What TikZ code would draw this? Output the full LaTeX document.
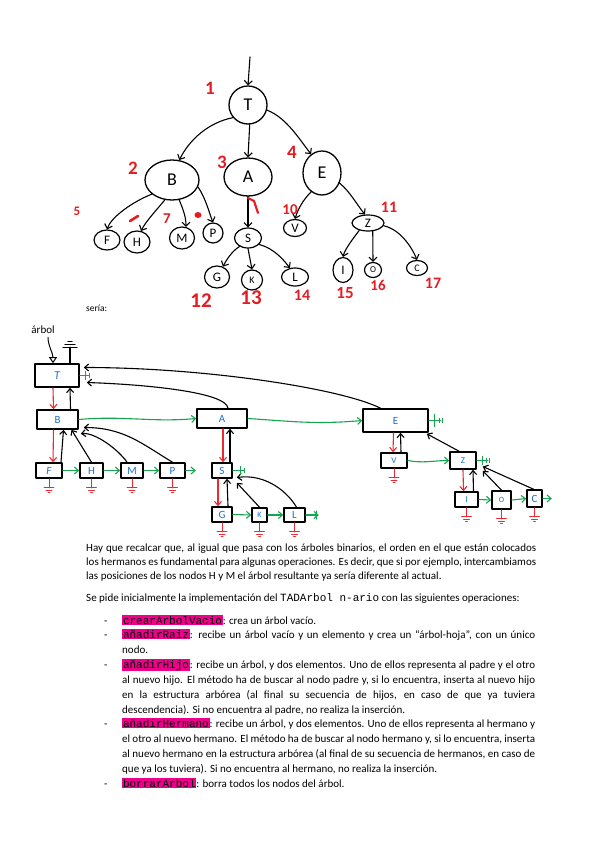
\documentclass[tikz,border=0pt]{standalone}
\usepackage{fontspec}
\setmainfont{Carlito}
\newfontfamily\codefont{Liberation Mono}
\usetikzlibrary{shapes.geometric,arrows.meta,calc}

\definecolor{numred}{RGB}{228,28,36}
\definecolor{linkred}{RGB}{236,40,48}
\definecolor{linkgreen}{RGB}{22,165,78}
\definecolor{labelblue}{RGB}{28,112,205}
\definecolor{hlpink}{RGB}{236,0,140}

\newcommand{\hl}[1]{{\setlength{\fboxsep}{0.8pt}\colorbox{hlpink}{\codefont\color{black}#1}}}
\newcommand{\jline}[2]{\hbox to #1{\spaceskip=0.23em plus 1em minus 0.12em #2}}

\begin{document}
\begin{tikzpicture}[x=1pt, y=-1pt, line cap=round, line join=round,
  bigc/.style={draw, ellipse, line width=1.3pt, inner sep=0pt, font=\fontsize{18}{18}\selectfont},
  smallc/.style={draw, ellipse, line width=1.2pt, inner sep=0pt, font=\fontsize{13}{13}\selectfont},
  num/.style={text=numred, font=\bfseries\fontsize{19}{19}\selectfont},
  tarrow/.style={line width=1.1pt, -{Straight Barb[length=4pt,width=8pt]}},
  cell/.style={draw, line width=1.6pt, inner sep=0pt, text=labelblue, font=\fontsize{11}{11}\selectfont},
  child/.style={linkred, line width=1.1pt, -{Straight Barb[length=4pt,width=7pt]}},
  parent/.style={line width=1.1pt, -{Straight Barb[length=4pt,width=7pt]}},
  sibling/.style={linkgreen, line width=1.1pt, -{Straight Barb[length=4pt,width=7pt]}},
  nil/.style={linkgreen, line width=1.1pt},
  gnd/.style={linkred, line width=0.9pt},
  body/.style={anchor=base west, inner sep=0pt, font=\fontsize{11}{11}\selectfont}]

  \fill[white] (0,0) rectangle (599,848);

  %% ==== arbol dibujado a mano ====
  \node[bigc, minimum width=38, minimum height=38] (tT) at (248,105) {T};
  \node[bigc, minimum width=54, minimum height=40] (tB) at (172,180) {B};
  \node[bigc, minimum width=48, minimum height=38] (tA) at (248,177) {A};
  \node[bigc, minimum width=38, minimum height=44] (tE) at (322,173) {E};
  \node[smallc, minimum width=26, minimum height=20] (tF) at (107,240) {F};
  \node[smallc, minimum width=26, minimum height=22] (tH) at (137,242) {H};
  \node[smallc, minimum width=25, minimum height=22] (tM) at (182,238) {M};
  \node[smallc, minimum width=20, minimum height=20] (tP) at (213,233) {P};
  \node[smallc, minimum width=27, minimum height=20] (tS) at (248,238) {S};
  \node[smallc, minimum width=23, minimum height=17] (tV) at (295,228) {V};
  \node[smallc, minimum width=32, minimum height=16] (tZ) at (368,223) {Z};
  \node[smallc, minimum width=25, minimum height=22] (tG) at (217,277) {G};
  \node[smallc, minimum width=21, minimum height=20] (tK) at (252,280) {\fontsize{10}{10}\selectfont K};
  \node[smallc, minimum width=27, minimum height=18] (tL) at (295,277) {L};
  \node[smallc, minimum width=20, minimum height=25] (tI) at (343,270) {I};
  \node[smallc, minimum width=17, minimum height=15] (tO) at (373,270) {\fontsize{9}{9}\selectfont O};
  \node[smallc, minimum width=21, minimum height=15] (tC) at (417,268) {\fontsize{10}{10}\selectfont C};

  \coordinate (root) at (250,57);
  \draw[tarrow] (root) -- (tT.north);
  \draw[tarrow] (tT.220) .. controls +(-25,5) and +(10,-20) .. (tB.70);
  \draw[tarrow] (tT.275) -- (tA.north);
  \draw[tarrow] (tT.345) .. controls +(20,8) and +(-12,-15) .. (tE.120);
  \draw[tarrow] (tB.215) .. controls +(-20,8) and +(4,-12) .. (tF.north);
  \draw[tarrow] (tB.250) .. controls +(-8,10) and +(5,-10) .. (tH.70);
  \draw[tarrow] (tB.290) .. controls +(4,10) and +(0,-10) .. (tM.70);
  \draw[tarrow] (tB.345) .. controls +(8,12) and +(-4,-10) .. (tP.north);
  \draw[tarrow] (tA.south) -- (tS.north);
  \draw[tarrow] (tE.240) .. controls +(-8,8) and +(3,-10) .. (tV.north);
  \draw[tarrow] (tE.330) .. controls +(10,8) and +(-8,-10) .. (tZ.110);
  \draw[tarrow] (tS.225) .. controls +(-8,5) and +(3,-6) .. (tG.60);
  \draw[tarrow] (tS.south) -- (tK.north);
  \draw[tarrow] (tS.330) .. controls +(15,4) and +(-6,-8) .. (tL.120);
  \draw[tarrow] (tZ.220) .. controls +(-6,8) and +(2,-8) .. (tI.north);
  \draw[tarrow] (tZ.300) -- (tO.north);
  \draw[tarrow] (tZ.350) .. controls +(18,4) and +(-4,-10) .. (tC.north);

  %% numeros en rojo
  \node[num] (n1) at (210,88) {1};
  \node[num] (n2) at (133,168) {2};
  \node[num] (n3) at (222,162) {3};
  \node[num] (n4) at (292,152) {4};
  \node[num, font=\bfseries\fontsize{13}{13}\selectfont] (n5) at (77,211) {5};
  \draw[numred, line width=2.6pt] (130,221) -- (138,216);
  \node[num, font=\bfseries\fontsize{15}{15}\selectfont] (n7) at (167,219) {7};
  \fill[numred] (198,215) ellipse (3.5 and 3);
  \draw[numred, line width=2.2pt] (248,198) -- (254,201) -- (258,213);
  \node[num, font=\bfseries\fontsize{15}{15}\selectfont] (n10) at (290,210) {10};
  \node[num, font=\bfseries\fontsize{16}{16}\selectfont] (n11) at (389,207) {11};
  \node[num, font=\bfseries\fontsize{21}{21}\selectfont] (n12) at (201,301) {12};
  \node[num, font=\bfseries\fontsize{21}{21}\selectfont] (n13) at (251,298) {13};
  \node[num, font=\bfseries\fontsize{16}{16}\selectfont] (n14) at (302,295) {14};
  \node[num, font=\bfseries\fontsize{17}{17}\selectfont] (n15) at (345,293) {15};
  \node[num, font=\bfseries\fontsize{15}{15}\selectfont] (n16) at (378,285) {16};
  \node[num, font=\bfseries\fontsize{16}{16}\selectfont] (n17) at (433,283) {17};

  \node[anchor=base west, inner sep=0pt, font=\fontsize{9.5}{9.5}\selectfont] (seria) at (86,311) {sería:};

  %% ==== estructura enlazada ====
  \node[font=\fontsize{11}{11}\selectfont] (lArbol) at (43,330) {árbol};
  \node[cell, minimum width=44, minimum height=23, font=\itshape\fontsize{12}{12}\selectfont] (bT) at (57,375.5) {T};
  \node[cell, minimum width=41, minimum height=19] (bB) at (57.5,419.5) {B};
  \node[cell, minimum width=50, minimum height=19] (bA) at (222,418.5) {A};
  \node[cell, minimum width=65, minimum height=23] (bE) at (395.5,420.5) {E};
  \node[cell, minimum width=26, minimum height=15, font=\itshape\fontsize{11}{11}\selectfont] (bF) at (49,470.5) {F};
  \node[cell, minimum width=23, minimum height=15] (bH) at (91.5,470.5) {H};
  \node[cell, minimum width=22, minimum height=15] (bM) at (132,470.5) {M};
  \node[cell, minimum width=25, minimum height=15] (bP) at (172.5,470.5) {P};
  \node[cell, minimum width=20, minimum height=15] (bS) at (222,470.5) {S};
  \node[cell, minimum width=20, minimum height=15] (bG) at (222,514.5) {G};
  \node[cell, minimum width=15, minimum height=14, font=\fontsize{8}{8}\selectfont] (bK) at (259.5,515) {K};
  \node[cell, minimum width=21, minimum height=14] (bL) at (294.5,515) {L};
  \node[cell, minimum width=26, minimum height=15, font=\fontsize{9}{9}\selectfont] (bV) at (394,460.5) {V};
  \node[cell, minimum width=26, minimum height=17, font=\fontsize{9}{9}\selectfont] (bZ) at (463,460.5) {Z};
  \node[cell, minimum width=23, minimum height=15, font=\fontsize{9}{9}\selectfont] (bI) at (466.5,499.5) {I};
  \node[cell, minimum width=19, minimum height=18, font=\fontsize{8}{8}\selectfont] (bO) at (501.5,500) {O};
  \node[cell, minimum width=15, minimum height=17] (bC) at (534.5,498.5) {C};

  % puntero de entrada y tierra del padre de la raiz
  \draw[line width=1pt, -{Triangle[open,length=6pt,width=8pt]}] ($(lArbol.south)+(5,0)$) .. controls +(0,8) and +(0,-10) .. ($(bT.north)+(-4,0)$);
  \draw[line width=1.1pt] ($(bT.north)+(13,0)$) -- ++(0,-16) ++(-7,0) -- ++(14,0) ++(-12,-3) -- ++(10,0) ++(-7,-3) -- ++(4,0);

  % primer hijo (rojo)
  \draw[child] ($(bT.south)+(-4,0)$) -- ($(bB.north)+(-4,0)$);
  \draw[child] ($(bB.south)+(-4,0)$) -- ($(bF.north)+(4,0)$);
  \draw[child] ($(bA.south)+(1,0)$) -- ($(bS.north)+(1,0)$);
  \draw[child] ($(bS.south)+(-4,0)$) -- ($(bG.north)+(-4,0)$);
  \draw[child] ($(bE.south)+(-2,0)$) -- ($(bV.north)+(-1,0)$);
  \draw[child] (bZ.south) -- ($(bI.north)+(-3,0)$);

  % padre (negro)
  \draw[parent] ($(bB.north)+(13,0)$) -- ($(bT.south)+(13,0)$);
  \draw[parent] ($(bF.north)+(12,0)$) -- ($(bB.south)+(6,0)$);
  \draw[parent] (bH.north) -- ($(bB.south)+(14,0)$);
  \draw[parent] ($(bM.north)+(-5,0)$) .. controls +(-8,-12) and +(14,-2) .. ($(bB.south east)+(2,4)$);
  \draw[parent] (bP.north) .. controls +(-30,-18) and +(40,0) .. ($(bB.east)+(5,8)$);
  \draw[parent] ($(bA.north)+(6,0)$) .. controls +(-2,-16) and +(60,2) .. ($(bT.east)+(7,7)$);
  \draw[parent] ($(bE.north)+(-15,0)$) .. controls +(-40,-20) and +(120,0) .. ($(bT.east)+(4,-8)$);
  \draw[parent] ($(bS.north)+(8,0)$) -- ($(bA.south)+(8,0)$);
  \draw[parent] ($(bG.north)+(6,0)$) -- ($(bS.south)+(5,0)$);
  \draw[parent] (bK.north) -- ($(bS.south east)+(4,4)$);
  \draw[parent] ($(bL.north)+(2,0)$) .. controls +(-8,-14) and +(30,-4) .. ($(bS.east)+(4,7)$);
  \draw[parent] ($(bV.north)+(7,0)$) -- ($(bE.south)+(5,0)$);
  \draw[parent] ($(bZ.north)+(-4,0)$) -- ($(bE.south east)+(-2,1)$);
  \draw[parent] ($(bI.north)+(7,0)$) -- ($(bZ.south)+(10,0)$);
  \draw[parent] (bO.north) -- ($(bZ.south east)+(6,1)$);
  \draw[parent] ($(bC.north)+(-1,0)$) -- ($(bZ.east)+(6,6)$);

  % hermano siguiente (verde)
  \draw[sibling] (bB.east) .. controls +(45,-4) and +(-45,4) .. (bA.west);
  \draw[sibling] (bA.east) .. controls +(45,3) and +(-45,4) .. (bE.west);
  \draw[sibling] (bF.east) -- (bH.west);
  \draw[sibling] (bH.east) -- (bM.west);
  \draw[sibling] (bM.east) -- (bP.west);
  \draw[sibling] (bG.east) -- (bK.west);
  \draw[sibling] (bK.east) -- (bL.west);
  \draw[sibling] (bV.east) .. controls +(15,3) and +(-15,0) .. (bZ.west);
  \draw[sibling] (bI.east) -- (bO.west);
  \draw[sibling] (bO.east) -- (bC.west);
  \draw[sibling] (bP.east) -- ++(10,0);
  \draw[sibling] (bL.east) -- ++(13,0);
  \draw[sibling] (bC.east) -- ++(9,0);

  % hermano nulo
  \draw[nil] (bT.east) -- ++(9,0) ++(-3,-4) -- ++(0,8) ++(4,-6) -- ++(0,4);
  \draw[nil] (bS.east) -- ++(11,0) ++(-3,-4) -- ++(0,8) ++(4,-6) -- ++(0,4);
  \draw[nil] (bE.east) -- ++(12,0) ++(-6,-6) -- ++(0,12) ++(5,-8) -- ++(0,4) ++(3,-4) -- ++(0,4);
  \draw[nil] (bZ.east) -- ++(11,0) ++(-5,-4) -- ++(0,8) ++(4,-6) -- ++(0,4) ++(3,-4) -- ++(0,4);
  \draw[nil] ($(bL.east)+(11,-4)$) -- ++(0,8);

  % tierra (hijo nulo)
  \foreach \n in {bF,bH,bM,bP,bG,bK,bL,bV,bI,bO,bC}
    \draw[gnd] (\n.south) -- ++(0,9) ++(-5,0) -- ++(10,0) ++(-8,2.5) -- ++(6,0) ++(-4,2.5) -- ++(2,0);

  %% ==== texto ====
  \node[body] (p1) at (86,551) {\jline{450pt}{Hay que recalcar que, al igual que pasa con los árboles binarios, el orden en el que están colocados}};
  \node[body] (p2) at (86,565) {\jline{450pt}{los hermanos es fundamental para algunas operaciones. Es decir, que si por ejemplo, intercambiamos}};
  \node[body] (p3) at (86,579) {las posiciones de los nodos H y M el árbol resultante ya sería diferente al actual.};
  \node[body] (p4) at (86,601) {Se pide inicialmente la implementación del {\codefont TADArbol n-ario} con las siguientes operaciones:};

  \foreach \y in {624,638,668,727,787}
    \node[body] at (104,\y) {-};

  \node[body] (o1) at (122,624) {\hl{crearArbolVacio}: crea un árbol vacío.};
  \node[body] (o2) at (122,638) {\jline{413pt}{\hl{añadirRaiz}: recibe un árbol vacío y un elemento y crea un “árbol-hoja”, con un único}};
  \node[body] (o2b) at (122,653) {nodo.};
  \node[body] (o3) at (122,668) {\jline{413pt}{\hl{añadirHijo}: recibe un árbol, y dos elementos. Uno de ellos representa al padre y el otro}};
  \node[body] (o3b) at (122,683) {\jline{413pt}{al nuevo hijo. El método ha de buscar al nodo padre y, si lo encuentra, inserta al nuevo hijo}};
  \node[body] (o3c) at (122,698) {\jline{413pt}{en la estructura arbórea (al final su secuencia de hijos, en caso de que ya tuviera}};
  \node[body] (o3d) at (122,713) {descendencia). Si no encuentra al padre, no realiza la inserción.};
  \node[body] (o4) at (122,727) {\jline{413pt}{\hl{añadirHermano}: recibe un árbol, y dos elementos. Uno de ellos representa al hermano y}};
  \node[body] (o4b) at (122,742) {\jline{413pt}{el otro al nuevo hermano. El método ha de buscar al nodo hermano y, si lo encuentra, inserta}};
  \node[body] (o4c) at (122,757) {\jline{413pt}{al nuevo hermano en la estructura arbórea (al final de su secuencia de hermanos, en caso de}};
  \node[body] (o4d) at (122,772) {que ya los tuviera). Si no encuentra al hermano, no realiza la inserción.};
  \node[body] (o5) at (122,787) {\hl{borrarArbol}: borra todos los nodos del árbol.};

  \pgfresetboundingbox
  \path[use as bounding box] (0,0) rectangle (599,848);
\end{tikzpicture}
\end{document}
